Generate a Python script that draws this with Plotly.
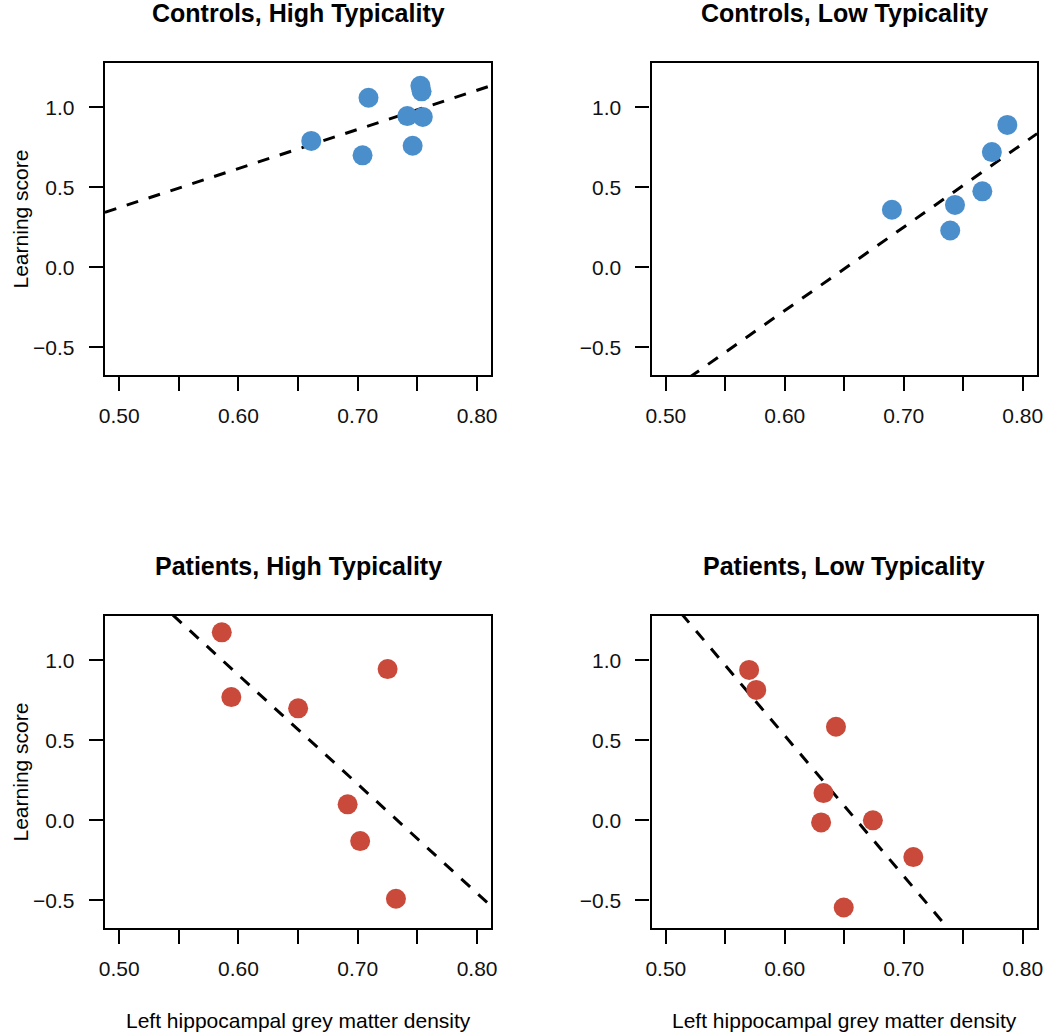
import plotly.graph_objects as go

# ---------------- data ----------------
ctrl_high_x = [0.661, 0.709, 0.704, 0.7415, 0.746, 0.7525, 0.7535, 0.7545]
ctrl_high_y = [0.79, 1.06, 0.70, 0.945, 0.76, 1.135, 1.10, 0.94]

ctrl_low_x = [0.690, 0.739, 0.743, 0.766, 0.774, 0.787]
ctrl_low_y = [0.36, 0.23, 0.39, 0.475, 0.72, 0.89]

pat_high_x = [0.586, 0.594, 0.650, 0.725, 0.6915, 0.702, 0.732]
pat_high_y = [1.175, 0.77, 0.70, 0.945, 0.10, -0.13, -0.49]

pat_low_x = [0.570, 0.576, 0.643, 0.6325, 0.6305, 0.674, 0.708, 0.6495]
pat_low_y = [0.94, 0.815, 0.585, 0.17, -0.013, 0.0, -0.23, -0.545]

# fitted regression lines: intercept, slope
fit_intercepts = [-0.850, -3.399, 5.000, 5.797]
fit_slopes = [2.446, 5.215, -6.82, -8.78]

panel_titles = ["Controls, High Typicality", "Controls, Low Typicality",
                "Patients, High Typicality", "Patients, Low Typicality"]

x_tick_vals = [0.50, 0.55, 0.60, 0.65, 0.70, 0.75, 0.80]
x_tick_text = ["0.50", "", "0.60", "", "0.70", "", "0.80"]
y_tick_vals = [-0.5, 0.0, 0.5, 1.0]
y_tick_text = ["\u22120.5", "0.0", "0.5", "1.0"]

x_range = [0.488, 0.812]
y_range = [-0.673, 1.277]

x_title = "Left hippocampal grey matter density"
y_title = "Learning score"

BLUE = "#4A8FCC"
RED = "#C94A3A"
FONT = "Liberation Sans, Arial, sans-serif"

W, H = 1050, 1034

# panel pixel boxes (left, right, top, bottom)
px_cols = [(100, 491), (653, 1043)]
px_rows = [(63, 375), (616, 928)]

panels = [
    (ctrl_high_x, ctrl_high_y, BLUE, 0, 0),
    (ctrl_low_x, ctrl_low_y, BLUE, 0, 1),
    (pat_high_x, pat_high_y, RED, 1, 0),
    (pat_low_x, pat_low_y, RED, 1, 1),
]

fig = go.Figure()
annotations = []
layout_axes = {}

for i, (xs, ys, col, r, c) in enumerate(panels):
    n = i + 1
    xa = "x" if n == 1 else f"x{n}"
    ya = "y" if n == 1 else f"y{n}"
    xl, xr = px_cols[c]
    yt, yb = px_rows[r]
    xdom = [xl / W, xr / W]
    ydom = [1 - yb / H, 1 - yt / H]

    # regression line across the panel
    lx = [x_range[0], x_range[1]]
    ly = [fit_intercepts[i] + fit_slopes[i] * v for v in lx]
    fig.add_trace(go.Scatter(x=lx, y=ly, mode="lines", xaxis=xa, yaxis=ya,
                             line=dict(color="black", width=3, dash="12px,11px"),
                             showlegend=False, hoverinfo="skip"))
    fig.add_trace(go.Scatter(x=xs, y=ys, mode="markers", xaxis=xa, yaxis=ya,
                             marker=dict(color=col, size=20, line=dict(width=0)),
                             showlegend=False))

    common = dict(showline=True, mirror=True, linecolor="black", linewidth=2.3,
                  ticks="outside", ticklen=14, tickwidth=2, tickcolor="black",
                  showgrid=False, zeroline=False,
                  tickfont=dict(family=FONT, size=21, color="#111111"))
    xkey = "xaxis" if n == 1 else f"xaxis{n}"
    ykey = "yaxis" if n == 1 else f"yaxis{n}"
    layout_axes[xkey] = dict(domain=xdom, range=x_range, anchor=ya,
                             tickmode="array", tickvals=x_tick_vals,
                             ticktext=x_tick_text, ticklabelstandoff=7, **common)
    layout_axes[ykey] = dict(domain=ydom, range=y_range, anchor=xa,
                             tickmode="array", tickvals=y_tick_vals,
                             ticktext=y_tick_text, ticklabelstandoff=10, **common)

    cx = (xl + xr) / 2 / W
    annotations.append(dict(text=f"<b>{panel_titles[i]}</b>", x=cx, y=1 - (yt - 50) / H,
                            xref="paper", yref="paper", xanchor="center", yanchor="middle",
                            showarrow=False, font=dict(family=FONT, size=25, color="black")))
    if c == 0:
        annotations.append(dict(text=y_title, x=0, y=1 - ((yt + yb) / 2) / H,
                                xref="paper", yref="paper", xanchor="left", yanchor="middle",
                                textangle=-90, showarrow=False,
                                font=dict(family=FONT, size=21, color="black")))
    if r == 1:
        annotations.append(dict(text=x_title, x=cx, y=1 - 1020 / H,
                                xref="paper", yref="paper", xanchor="center", yanchor="middle",
                                showarrow=False, font=dict(family=FONT, size=21, color="black")))

fig.update_layout(width=W, height=H, margin=dict(l=0, r=0, t=0, b=0),
                  paper_bgcolor="white", plot_bgcolor="white",
                  annotations=annotations, **layout_axes)

fig.write_html("out.html", config={"displayModeBar": False},
               post_script="document.body.style.margin='0';document.body.style.overflow='hidden';")
